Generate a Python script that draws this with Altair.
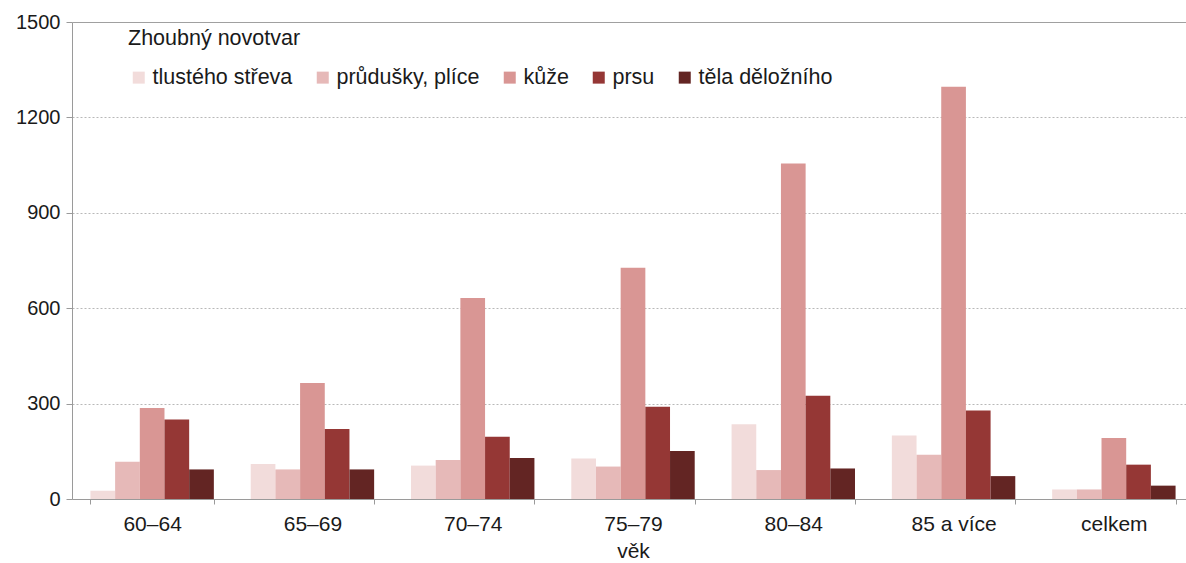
import altair as alt
import pandas as pd

categories = ["60–64", "65–69", "70–74", "75–79", "80–84", "85 a více", "celkem"]
series = ["tlustého střeva", "průdušky, plíce", "kůže", "prsu", "těla děložního"]
colors = ["#f2dcdb", "#e6b9b8", "#d99694", "#953735", "#632523"]

tlusteho_streva = [26, 110, 105, 127, 235, 200, 30]
prudusky_plice = [117, 93, 123, 102, 91, 139, 30]
kuze = [286, 365, 632, 727, 1055, 1296, 192]
prsu = [250, 220, 196, 290, 325, 278, 108]
tela_deloznich = [93, 93, 129, 151, 96, 72, 42]
y_ticks = [0, 300, 600, 900, 1200, 1500]

values = [tlusteho_streva, prudusky_plice, kuze, prsu, tela_deloznich]
rows = []
for s, vals in zip(series, values):
    for c, v in zip(categories, vals):
        rows.append({"věk": c, "novotvar": s, "hodnota": v})
df = pd.DataFrame(rows)

FONT = "Liberation Sans"
TXT = "#1a1a1a"
W = 1114      # visible plot width (chart is cut at the right like the original)
H = 477

chart = alt.Chart(df).mark_bar().encode(
    x=alt.X("věk:N", sort=categories,
            scale=alt.Scale(paddingInner=0.23, paddingOuter=0.115, range=[0, 1122]),
            axis=alt.Axis(title="věk", labelAngle=0, tickBand="extent",
                          domainColor="#9a9a9a", tickColor="#9a9a9a", tickSize=5,
                          labelPadding=9, titlePadding=6, labelFontSize=21,
                          titleFontSize=21, titleFontWeight="normal",
                          labelColor=TXT, titleColor=TXT)),
    xOffset=alt.XOffset("novotvar:N", sort=series),
    y=alt.Y("hodnota:Q", scale=alt.Scale(domain=[0, 1500]),
            axis=alt.Axis(title=None, values=y_ticks, format="d",
                          domainColor="#9a9a9a", tickColor="#9a9a9a", tickSize=6,
                          gridColor={"condition": {"test": "datum.value === 1500", "value": "#a0a0a0"}, "value": "#b8b8b8"},
                          gridDash={"condition": {"test": "datum.value === 1500", "value": []}, "value": [2, 2]},
                          gridWidth=1,
                          labelPadding=6, labelFontSize=20, labelColor=TXT)),
    color=alt.Color("novotvar:N", sort=series,
                    scale=alt.Scale(domain=series, range=colors),
                    legend=alt.Legend(title="Zhoubný novotvar", orient="none",
                                      legendX=56, legendY=6, direction="horizontal",
                                      symbolType="square", symbolSize=144,
                                      symbolStrokeWidth=0, labelOffset=3,
                                      columnPadding=19, titlePadding=17,
                                      labelFontSize=21.5, titleFontSize=21.5,
                                      titleFontWeight="normal",
                                      labelColor=TXT, titleColor=TXT)),
).properties(
    width=W, height=H,
    autosize=alt.AutoSizeParams(type="none"),
    padding={"left": 72, "top": 22, "right": 0, "bottom": 64},
).configure(font=FONT).configure_view(stroke=None)

chart.save("out.html", embed_options={"renderer": "svg", "actions": False})
